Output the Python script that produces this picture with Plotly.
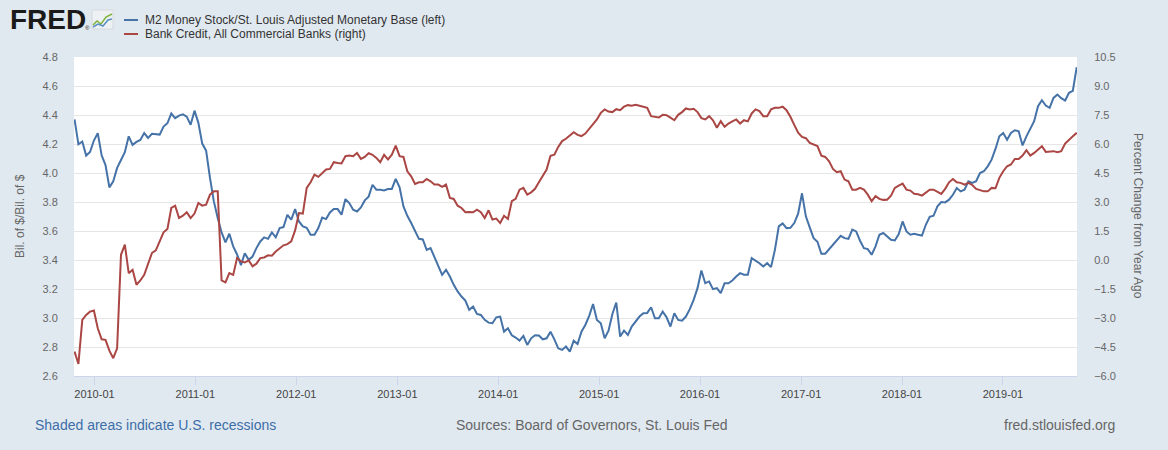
import pandas as pd
import plotly.graph_objects as go

# ---------------- data ----------------
start_date = "2009-10-21"
n_points = 260
dates = pd.date_range(start_date, periods=n_points, freq="14D")

m2_ratio = [
    4.37, 4.198, 4.217, 4.120, 4.145, 4.224, 4.275, 4.122, 4.055, 3.901,
    3.943, 4.035, 4.090, 4.143, 4.253, 4.194, 4.214, 4.228, 4.275, 4.242,
    4.270, 4.268, 4.265, 4.320, 4.343, 4.41, 4.378, 4.396, 4.405, 4.389,
    4.332, 4.43, 4.346, 4.203, 4.154, 3.966, 3.804, 3.689, 3.590, 3.521,
    3.581, 3.494, 3.438, 3.365, 3.447, 3.401, 3.424, 3.482, 3.528, 3.556,
    3.546, 3.590, 3.556, 3.620, 3.627, 3.712, 3.678, 3.751, 3.666, 3.632,
    3.622, 3.574, 3.574, 3.620, 3.692, 3.682,
    3.728, 3.751, 3.751, 3.712, 3.820, 3.793, 3.747, 3.735, 3.763, 3.811,
    3.837, 3.919, 3.885, 3.885, 3.880, 3.890, 3.890, 3.959, 3.901, 3.770,
    3.705, 3.655, 3.604, 3.546, 3.542, 3.470, 3.482, 3.424, 3.367, 3.298,
    3.332, 3.286, 3.229, 3.183, 3.148, 3.120, 3.056, 3.079, 3.028, 3.021,
    2.987, 2.968, 2.964, 3.005, 3.010, 2.906, 2.929, 2.881, 2.865, 2.844,
    2.876, 2.814, 2.860, 2.881, 2.879, 2.853, 2.860, 2.906, 2.853, 2.791,
    2.780, 2.803, 2.768, 2.844, 2.821, 2.906,
    2.952, 3.015, 3.097, 2.987, 2.964, 2.860, 2.913, 3.028, 3.107, 2.872,
    2.913, 2.883, 2.941, 2.973, 3.010, 3.033, 3.035, 3.074, 2.998, 2.998,
    3.044, 3.005, 2.941, 3.033, 2.987, 2.982, 3.010, 3.061, 3.125, 3.206,
    3.328, 3.240, 3.252, 3.199, 3.206, 3.171, 3.240, 3.240, 3.259, 3.286,
    3.309, 3.298, 3.298, 3.413, 3.397, 3.378, 3.355, 3.378, 3.351, 3.470,
    3.632, 3.652, 3.620, 3.622, 3.655, 3.719, 3.86, 3.701, 3.625, 3.551,
    3.526, 3.443, 3.443, 3.475, 3.505,
    3.535, 3.567, 3.551, 3.546, 3.609, 3.597, 3.533, 3.482, 3.475, 3.436,
    3.494, 3.574, 3.586, 3.563, 3.540, 3.535, 3.579, 3.666, 3.597, 3.574,
    3.581, 3.574, 3.569, 3.643, 3.698, 3.705, 3.770, 3.800, 3.797, 3.816,
    3.850, 3.896, 3.873, 3.885, 3.943, 3.931, 3.943, 4.000, 4.012, 4.046,
    4.092, 4.166, 4.253, 4.276, 4.230, 4.276, 4.295, 4.288, 4.19, 4.253,
    4.311, 4.357, 4.461, 4.502, 4.465, 4.449, 4.518, 4.541, 4.516, 4.500,
    4.553, 4.567, 4.73,
]

bank_credit_pct = [
    -4.74, -5.38, -3.10, -2.84, -2.67, -2.61, -3.53, -4.10, -4.13, -4.69,
    -5.08, -4.57, 0.27, 0.79, -0.68, -0.51, -1.28, -1.06, -0.77, -0.19,
    0.36, 0.50, 0.96, 1.43, 1.60, 2.69, 2.81, 2.17, 2.29, 2.47,
    2.17, 2.40, 2.95, 2.81, 2.86, 3.38, 3.55, 3.55, -1.06, -1.16,
    -0.68, -0.77, 0.10, -0.07, -0.13, -0.02, -0.33, -0.19, 0.10, 0.13,
    0.24, 0.22, 0.44, 0.62, 0.76, 0.82, 0.96, 1.53, 2.43, 2.40,
    3.73, 4.02, 4.42, 4.30, 4.47, 4.68,
    4.71, 5.06, 5.02, 4.99, 5.37, 5.40, 5.37, 5.54, 5.23, 5.33,
    5.52, 5.44, 5.28, 5.06, 5.44, 5.20, 5.45, 5.92, 5.37, 5.33,
    4.59, 4.33, 3.93, 4.02, 4.02, 4.19, 4.07, 3.90, 3.90, 3.78,
    3.90, 3.21, 3.16, 2.81, 2.69, 2.47, 2.48, 2.47, 2.60, 2.47,
    2.17, 2.57, 2.09, 2.14, 1.91, 2.29, 2.12, 3.04, 3.16, 3.64,
    3.73, 3.38, 3.50, 3.68, 4.02, 4.37, 4.68, 5.39, 5.45, 5.85,
    6.15, 6.27, 6.44, 6.61, 6.47, 6.41,
    6.54, 6.78, 7.06, 7.27, 7.61, 7.79, 7.68, 7.65, 7.80, 7.75,
    7.93, 8.01, 7.98, 8.03, 7.98, 7.93, 7.87, 7.44, 7.41, 7.37,
    7.51, 7.49, 7.36, 7.23, 7.51, 7.65, 7.84, 7.79, 7.82, 7.65,
    7.34, 7.27, 7.44, 7.23, 6.84, 7.18, 6.89, 7.06, 7.17, 7.27,
    7.06, 7.23, 7.17, 7.58, 7.79, 7.70, 7.44, 7.44, 7.79, 7.87,
    7.87, 7.93, 7.75, 7.41, 6.99, 6.58, 6.37, 6.30, 6.06, 5.99,
    5.89, 5.40, 5.33, 5.11, 4.71,
    4.54, 4.59, 4.16, 4.07, 3.64, 3.64, 3.73, 3.64, 3.38, 3.04,
    3.30, 3.16, 3.11, 3.12, 3.33, 3.73, 3.85, 3.95, 3.64, 3.59,
    3.43, 3.40, 3.33, 3.47, 3.64, 3.64, 3.55, 3.42, 3.68, 4.02,
    4.19, 4.02, 3.99, 3.90, 3.99, 3.88, 3.68, 3.61, 3.55, 3.55,
    3.73, 3.71, 4.25, 4.59, 4.85, 4.94, 5.23, 5.23, 5.40, 5.68,
    5.40, 5.54, 5.71, 5.89, 5.59, 5.61, 5.63, 5.58, 5.63, 6.02,
    6.23, 6.40, 6.58,
]

series_names = [
    "M2 Money Stock/St. Louis Adjusted Monetary Base (left)",
    "Bank Credit, All Commercial Banks (right)",
]
left_title = "Bil. of $/Bil. of $"
right_title = "Percent Change from Year Ago"
footer_left = "Shaded areas indicate U.S. recessions"
footer_mid = "Sources: Board of Governors, St. Louis Fed"
footer_right = "fred.stlouisfed.org"

# ---------------- styling ----------------
W, H = 1168, 450
L, R, T, B = 74, 1077, 57, 376
BLUE = "#4572a7"
RED = "#aa4643"
FONT = "Liberation Sans, Arial, sans-serif"


def px(x):
    return (x - L) / (R - L)


def py(y):
    return (B - y) / (B - T)


fig = go.Figure()
fig.add_trace(go.Scatter(x=dates, y=m2_ratio, mode="lines", name=series_names[0],
                         line=dict(color=BLUE, width=2), yaxis="y"))
fig.add_trace(go.Scatter(x=dates, y=bank_credit_pct, mode="lines", name=series_names[1],
                         line=dict(color=RED, width=2), yaxis="y2"))

fig.update_layout(
    width=W, height=H,
    paper_bgcolor="#e1e9f0", plot_bgcolor="#ffffff",
    margin=dict(l=L, r=W - R, t=T, b=H - B, pad=0),
    showlegend=False,
    font=dict(family=FONT, size=11, color="#666666"),
    xaxis=dict(
        type="date", range=["2009-10-19", "2019-09-26"],
        tick0="2010-01-01", dtick="M12", tickformat="%Y-%m",
        showgrid=False, zeroline=False,
        showline=True, linecolor="#ccd6eb", linewidth=1,
        ticks="outside", ticklen=8, tickcolor="#ccd6eb",
        tickfont=dict(size=11, color="#444444"),
    ),
    yaxis=dict(
        range=[2.6, 4.8], tick0=2.6, dtick=0.2, tickformat=".1f",
        showgrid=True, gridcolor="#e6e6e6", zeroline=False, showline=False,
        ticks="outside", ticklen=13, tickcolor="rgba(0,0,0,0)",
        tickfont=dict(size=11, color="#666666"),
    ),
    yaxis2=dict(
        range=[-6, 10.5], tick0=-6, dtick=1.5, tickformat=".1f",
        overlaying="y", side="right",
        showgrid=False, zeroline=False, showline=False,
        ticks="outside", ticklen=14, tickcolor="rgba(0,0,0,0)",
        tickfont=dict(size=11, color="#666666"),
    ),
)

annotations = [
    # axis titles
    dict(x=px(20), y=py(216), text=left_title, textangle=-90, showarrow=False,
         xanchor="center", yanchor="middle", font=dict(size=12, color="#666666")),
    dict(x=px(1138), y=py(216), text=right_title, textangle=90, showarrow=False,
         xanchor="center", yanchor="middle", font=dict(size=12, color="#666666")),
    # legend texts
    dict(x=px(143), y=py(20), text=series_names[0], showarrow=False,
         xanchor="left", yanchor="middle", font=dict(size=12, color="#333333")),
    dict(x=px(143), y=py(34), text=series_names[1], showarrow=False,
         xanchor="left", yanchor="middle", font=dict(size=12, color="#333333")),
    # FRED logo
    dict(x=px(8), y=py(20), text="<b>FRED</b>", showarrow=False,
         xanchor="left", yanchor="middle",
         font=dict(size=28, color="#1a1a1a", family="Liberation Sans, Arial")),
    dict(x=px(83), y=py(28), text="®", showarrow=False, xanchor="left", yanchor="middle",
         font=dict(size=6, color="#1a1a1a")),
    # footer
    dict(x=px(33), y=py(425), text=footer_left, showarrow=False,
         xanchor="left", yanchor="middle", font=dict(size=14, color="#3c6ea8")),
    dict(x=px(592), y=py(425), text=footer_mid, showarrow=False,
         xanchor="center", yanchor="middle", font=dict(size=14, color="#666666")),
    dict(x=px(1117), y=py(425), text=footer_right, showarrow=False,
         xanchor="right", yanchor="middle", font=dict(size=14, color="#666666")),
]
for a in annotations:
    a.update(xref="paper", yref="paper")
fig.update_layout(annotations=annotations)

shapes = [
    # legend line samples
    dict(type="line", x0=px(124), x1=px(138), y0=py(20), y1=py(20),
         line=dict(color=BLUE, width=2)),
    dict(type="line", x0=px(124), x1=px(138), y0=py(34), y1=py(34),
         line=dict(color=RED, width=2)),
    # logo icon box
    dict(type="rect", x0=px(92), x1=px(113), y0=py(29), y1=py(10),
         fillcolor="#eef1f4", line=dict(color="#d4d9de", width=1)),
    dict(type="path",
         path=f"M {px(93)},{py(25)} L {px(97)},{py(21)} L {px(101)},{py(24)} L {px(106)},{py(17)} L {px(112)},{py(14)}",
         line=dict(color="#7fb23c", width=1.5)),
    dict(type="path",
         path=f"M {px(93)},{py(27)} L {px(98)},{py(24)} L {px(103)},{py(26)} L {px(108)},{py(20)} L {px(112)},{py(19)}",
         line=dict(color="#5b8fc4", width=1.5)),
]
for s in shapes:
    s.update(xref="paper", yref="paper")
fig.update_layout(shapes=shapes)

fig.write_html(
    "out.html",
    config={"displayModeBar": False},
    post_script="document.body.style.margin='0';document.body.style.padding='0';",
)
